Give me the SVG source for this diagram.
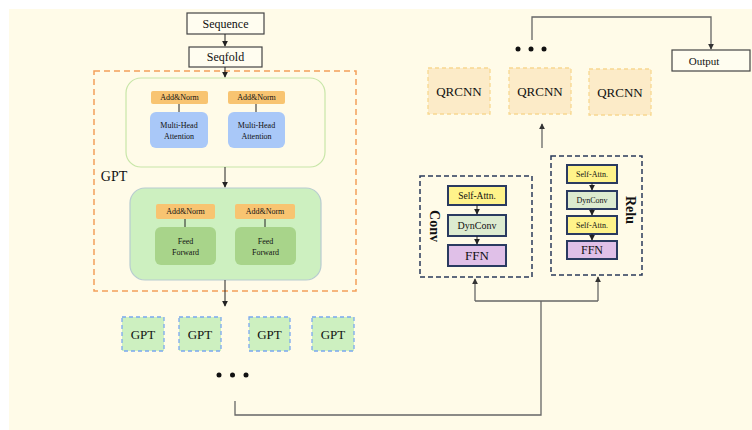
<svg xmlns="http://www.w3.org/2000/svg" width="752" height="430" viewBox="0 0 752 430">
<defs>
<marker id="ah" viewBox="0 0 8 8" refX="7" refY="4" markerWidth="6" markerHeight="6" orient="auto" markerUnits="userSpaceOnUse">
<path d="M0,0 L8,4 L0,8 z" fill="#222"/>
</marker>
<marker id="ahg" viewBox="0 0 8 8" refX="7" refY="4" markerWidth="6" markerHeight="6" orient="auto" markerUnits="userSpaceOnUse">
<path d="M0,0 L8,4 L0,8 z" fill="#333"/>
</marker>
</defs>
<style>
text{font-family:"Liberation Serif","Times New Roman",serif;fill:#111;text-anchor:middle;dominant-baseline:central}
.box{fill:#fffdf0;stroke:#444;stroke-width:1.2}
.an{fill:#f8c471}
.mha{fill:#a9c8f8}
.ff{fill:#a8d48a}
.gpt{fill:#cdf0c0;stroke:#7aa8f0;stroke-width:1.3;stroke-dasharray:4 3}
.qr{fill:#fcebc8;stroke:#f8d890;stroke-width:1.3;stroke-dasharray:4 3}
.blk{fill:none;stroke:#2a3a5a;stroke-width:1.5;stroke-dasharray:5 3}
.sa{fill:#fff38a;stroke:#2a3a60;stroke-width:2}
.dc{fill:#ddebd0;stroke:#2a3a60;stroke-width:2}
.fn{fill:#e0c0e8;stroke:#2a3a60;stroke-width:2}
.ln{fill:none;stroke:#222;stroke-width:1}
.cn{fill:none;stroke:#666;stroke-width:1.3}
</style>
<rect x="0" y="0" width="752" height="430" fill="#ffffff"/>
<rect x="9" y="9" width="743" height="421" fill="#fffbe8"/>

<g id="sequence"><rect class="box" x="187" y="13" width="77" height="21"/><text x="225.5" y="23.5" font-size="12">Sequence</text></g>
<g id="seqfold"><rect class="box" x="189" y="47" width="73" height="20"/><text x="225.5" y="57" font-size="12">Seqfold</text></g>

<g id="gpt-block">
<rect x="94" y="71" width="262" height="220" fill="none" stroke="#f4a05a" stroke-width="1.5" stroke-dasharray="6 4"/>
<text x="114" y="176" font-size="14">GPT</text>
</g>

<g id="attention-layer">
<rect x="126" y="78" width="199" height="89" rx="15" fill="#fffbe8" stroke="#c8e6a8" stroke-width="1.2"/>
<rect class="an" x="151" y="91" width="57" height="13" rx="2"/><text x="179.5" y="97.5" font-size="8">Add&amp;Norm</text>
<rect class="an" x="228" y="91" width="57" height="13" rx="2"/><text x="256.5" y="97.5" font-size="8">Add&amp;Norm</text>
<line class="ln" x1="179" y1="104" x2="179" y2="112" stroke-width="1.5"/>
<line class="ln" x1="256" y1="104" x2="256" y2="112" stroke-width="1.5"/>
<rect class="mha" x="150" y="112" width="58" height="36" rx="6"/><text x="179" y="125" font-size="8">Multi-Head</text><text x="179" y="136" font-size="8">Attention</text>
<rect class="mha" x="228" y="112" width="57" height="36" rx="6"/><text x="256.5" y="125" font-size="8">Multi-Head</text><text x="256.5" y="136" font-size="8">Attention</text>
</g>

<g id="feedforward-layer">
<rect x="130" y="188" width="191" height="92" rx="15" fill="#cdf0c0" stroke="#b8ccd0" stroke-width="1.2"/>
<rect class="an" x="156" y="204" width="59" height="15" rx="2"/><text x="185.5" y="211.5" font-size="8">Add&amp;Norm</text>
<rect class="an" x="235" y="204" width="60" height="15" rx="2"/><text x="265" y="211.5" font-size="8">Add&amp;Norm</text>
<line class="ln" x1="185" y1="219" x2="185" y2="227" stroke-width="1.5"/>
<line class="ln" x1="265" y1="219" x2="265" y2="227" stroke-width="1.5"/>
<rect class="ff" x="155" y="227" width="61" height="38" rx="6"/><text x="185.5" y="241" font-size="8">Feed</text><text x="185.5" y="252" font-size="8">Forward</text>
<rect class="ff" x="235" y="227" width="61" height="38" rx="6"/><text x="265.5" y="241" font-size="8">Feed</text><text x="265.5" y="252" font-size="8">Forward</text>
</g>

<g id="gpt1"><rect class="gpt" x="122" y="317" width="42" height="34"/><text x="143" y="334" font-size="13">GPT</text></g>
<g id="gpt2"><rect class="gpt" x="179" y="317" width="42" height="34"/><text x="200" y="334" font-size="13">GPT</text></g>
<g id="gpt3"><rect class="gpt" x="249" y="317" width="41" height="34"/><text x="269.5" y="334" font-size="13">GPT</text></g>
<g id="gpt4"><rect class="gpt" x="312" y="317" width="42" height="34"/><text x="333" y="334" font-size="13">GPT</text></g>
<g id="dots-left"><circle cx="219" cy="375" r="2.5" fill="#111"/><circle cx="232.5" cy="375" r="2.5" fill="#111"/><circle cx="246" cy="375" r="2.5" fill="#111"/></g>

<g id="conv-block">
<rect class="blk" x="420" y="176" width="112" height="101"/>
<text transform="translate(434,226) rotate(90)" font-size="14" font-weight="bold">Conv</text>
<rect class="sa" x="448" y="186" width="58" height="19"/><text x="477" y="195.5" font-size="9.5">Self-Attn.</text>
<rect class="dc" x="448" y="215" width="58" height="21"/><text x="477" y="225.5" font-size="10">DynConv</text>
<rect class="fn" x="448" y="245" width="58" height="21"/><text x="477" y="255.5" font-size="13">FFN</text>
<line class="ln" x1="477" y1="205" x2="477" y2="214" stroke-width="1.5" marker-end="url(#ah)"/>
<line class="ln" x1="477" y1="236" x2="477" y2="244" stroke-width="1.5" marker-end="url(#ah)"/>
</g>

<g id="relu-block">
<rect class="blk" x="551" y="156" width="91" height="119"/>
<text transform="translate(630,210) rotate(90)" font-size="14" font-weight="bold">Relu</text>
<rect class="sa" x="567" y="165" width="50" height="18"/><text x="592" y="174" font-size="8">Self-Attn.</text>
<rect class="dc" x="567" y="191" width="50" height="18"/><text x="592" y="200" font-size="8">DynConv</text>
<rect class="sa" x="567" y="216" width="50" height="18"/><text x="592" y="225" font-size="8">Self-Attn.</text>
<rect class="fn" x="567" y="241" width="50" height="18"/><text x="592" y="250" font-size="12">FFN</text>
<line class="ln" x1="592" y1="183" x2="592" y2="190" stroke-width="1.5" marker-end="url(#ah)"/>
<line class="ln" x1="592" y1="209" x2="592" y2="215" stroke-width="1.5" marker-end="url(#ah)"/>
<line class="ln" x1="592" y1="234" x2="592" y2="240" stroke-width="1.5" marker-end="url(#ah)"/>
</g>

<g id="qrcnn1"><rect class="qr" x="428" y="68" width="62" height="46"/><text x="459" y="91" font-size="13">QRCNN</text></g>
<g id="qrcnn2"><rect class="qr" x="509" y="68" width="62" height="46"/><text x="540" y="91" font-size="13">QRCNN</text></g>
<g id="qrcnn3"><rect class="qr" x="589" y="69" width="62" height="46"/><text x="620" y="92" font-size="13">QRCNN</text></g>
<g id="dots-right"><circle cx="518" cy="49" r="2.5" fill="#111"/><circle cx="531" cy="49" r="2.5" fill="#111"/><circle cx="544" cy="49" r="2.5" fill="#111"/></g>

<g id="output"><rect class="box" x="672" y="50" width="78" height="21"/><text x="704" y="60.5" font-size="11">Output</text></g>

<g id="connectors">
<line class="ln" x1="225" y1="34" x2="225" y2="46" marker-end="url(#ah)"/>
<line class="ln" x1="225" y1="67" x2="225" y2="77" marker-end="url(#ah)"/>
<line class="ln" x1="225" y1="167" x2="225" y2="187" marker-end="url(#ah)"/>
<line class="ln" x1="225" y1="280" x2="225" y2="306" marker-end="url(#ah)"/>
<polyline class="cn" points="235,401 235,415 541,415 541,301"/>
<line class="cn" x1="475" y1="301" x2="598" y2="301"/>
<line class="cn" x1="475" y1="301" x2="475" y2="279" marker-end="url(#ahg)"/>
<line class="cn" x1="598" y1="301" x2="598" y2="277" marker-end="url(#ahg)"/>
<line class="cn" x1="542" y1="148" x2="542" y2="124" marker-end="url(#ahg)"/>
<polyline class="cn" points="532,40 532,17 711,17 711,49" marker-end="url(#ahg)"/>
</g>
</svg>
